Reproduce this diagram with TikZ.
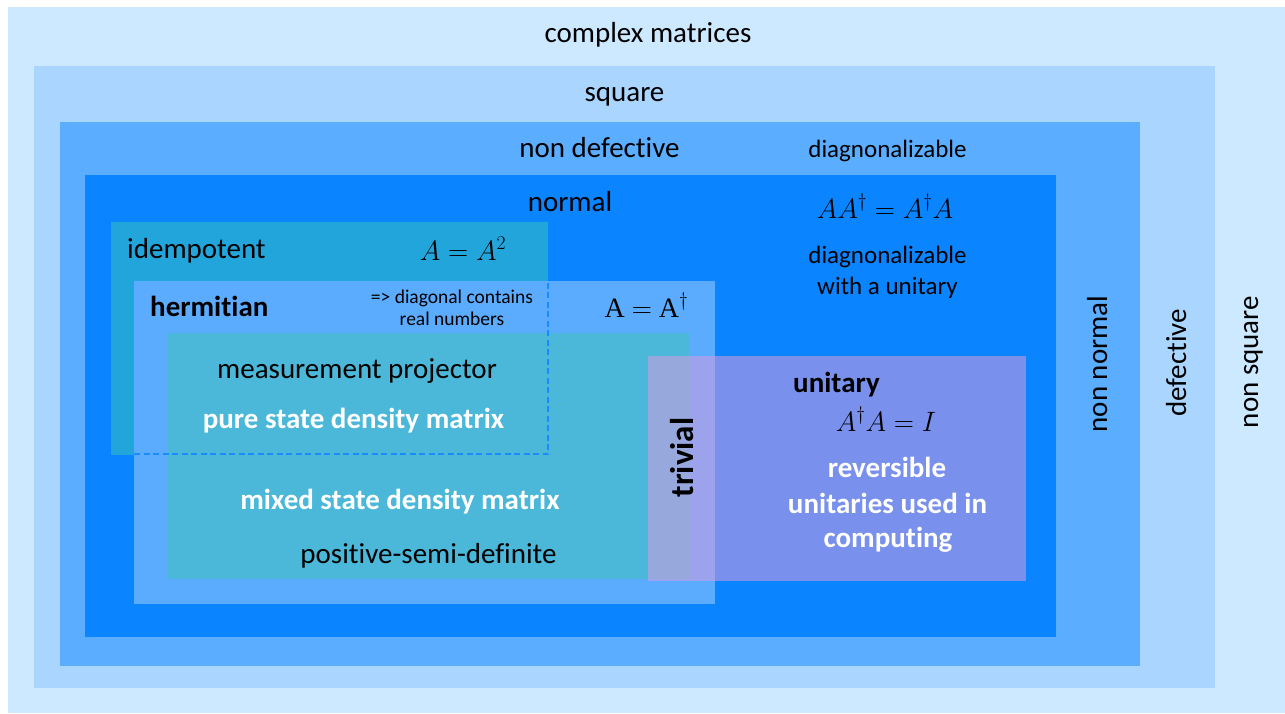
\RequirePackage{fix-cm}
\documentclass[tikz,border=0pt]{standalone}
\usepackage{amsmath}
\usepackage[no-math]{fontspec}
\setmainfont{Carlito}[Ligatures=NoCommon]
\newfontfamily\serifA{Liberation Serif}
\definecolor{cOuter}{RGB}{204,233,255}
\definecolor{cSquare}{RGB}{170,213,255}
\definecolor{cNonDef}{RGB}{91,173,255}
\definecolor{cNormal}{RGB}{10,132,255}
\definecolor{cIdem}{RGB}{34,165,218}
\definecolor{cHerm}{RGB}{91,172,255}
\definecolor{cPSD}{RGB}{75,184,217}
\definecolor{cUni}{RGB}{213,155,224}
\definecolor{cDash}{RGB}{26,140,255}
\tikzset{
  lbl/.style={font=\fontsize{29}{35}\selectfont, inner sep=0pt, anchor=base, text=black},
  lblb/.style={lbl, font=\fontsize{29}{35}\selectfont\bfseries},
  wlbl/.style={lblb, text=white},
  dlbl/.style={lbl, font=\fontsize{25}{30}\selectfont},
  slbl/.style={lbl, font=\fontsize{19.5}{23}\selectfont},
  mlbl/.style={lbl, font=\fontsize{28}{34}\selectfont},
  dashline/.style={draw=cDash, line width=1.5pt, dash pattern=on 6pt off 3.5pt}
}
\begin{document}
\begin{tikzpicture}[x=1pt,y=-1pt]
\useasboundingbox (0,0) rectangle (1285,713);
\fill[white] (0,0) rectangle (1285,713);
% nested regions
\fill[cOuter]  (8,7) rectangle (1285,713);
\fill[cSquare] (34,66) rectangle (1215,688);
\fill[cNonDef] (60,122) rectangle (1140,666);
\fill[cNormal] (85,175) rectangle (1056,637);
\fill[cIdem]   (111,222) rectangle (548,455);
\fill[cHerm]   (134,281) rectangle (715,604);
\fill[cPSD]    (168,333) rectangle (689,579);
\fill[cUni, fill opacity=0.55] (648,356) rectangle (1026,581);
% dashed idempotent boundary
\coordinate (d1) at (134,454);
\coordinate (d2) at (548,454);
\coordinate (d3) at (548,281);
\draw[dashline] (d1) -- (d2) -- (d3);
% labels
\node[lbl] (complex) at (648,42) {complex matrices};
\node[lbl] (square) at (624.5,101) {square};
\node[lbl] (nondef) at (599.5,157) {non defective};
\node[dlbl] (diag1) at (887.5,157) {diagnonalizable};
\node[lbl] (normal) at (570,211) {normal};
\node[mlbl] (normeq) at (885,218) {$AA^{\dagger} = A^{\dagger}A$};
\node[dlbl] (diag2) at (887.5,263) {diagnonalizable};
\node[dlbl] (diag3) at (887.5,294) {with a unitary};
\node[lbl, anchor=base west] (idem) at (127,258) {idempotent};
\node[mlbl] (idemeq) at (463,260) {$A = A^{2}$};
\node[lblb, anchor=base west] (herm) at (150,316) {hermitian};
\node[slbl] (diagc1) at (452,303) {=> diagonal contains};
\node[slbl] (diagc2) at (452,325) {real numbers};
\node[mlbl] (hermeq) at (646.5,317) {\serifA A $=$ A$^{\dagger}$};
\node[lbl] (meas) at (357,378) {measurement projector};
\node[wlbl] (pure) at (353.5,428) {pure state density matrix};
\node[wlbl] (mixed) at (400,509) {mixed state density matrix};
\node[lbl] (psd) at (428.5,563) {positive-semi-definite};
\node[lblb, rotate=90, font=\fontsize{33}{38}\selectfont\bfseries] (trivial) at (693,457.5) {trivial};
\node[lblb, anchor=base west] (unitary) at (793,392) {unitary};
\node[mlbl] (unieq) at (886,431) {$A^{\dagger}A = I$};
\node[wlbl] (rev1) at (887,477) {reversible};
\node[wlbl] (rev2) at (887.5,513) {unitaries used in};
\node[wlbl] (rev3) at (888,547) {computing};
\node[lbl, rotate=90] (nonnormal) at (1107,364) {non normal};
\node[lbl, rotate=90] (defective) at (1186,363) {defective};
\node[lbl, rotate=90] (nonsquare) at (1258,362) {non square};
\end{tikzpicture}
\end{document}
